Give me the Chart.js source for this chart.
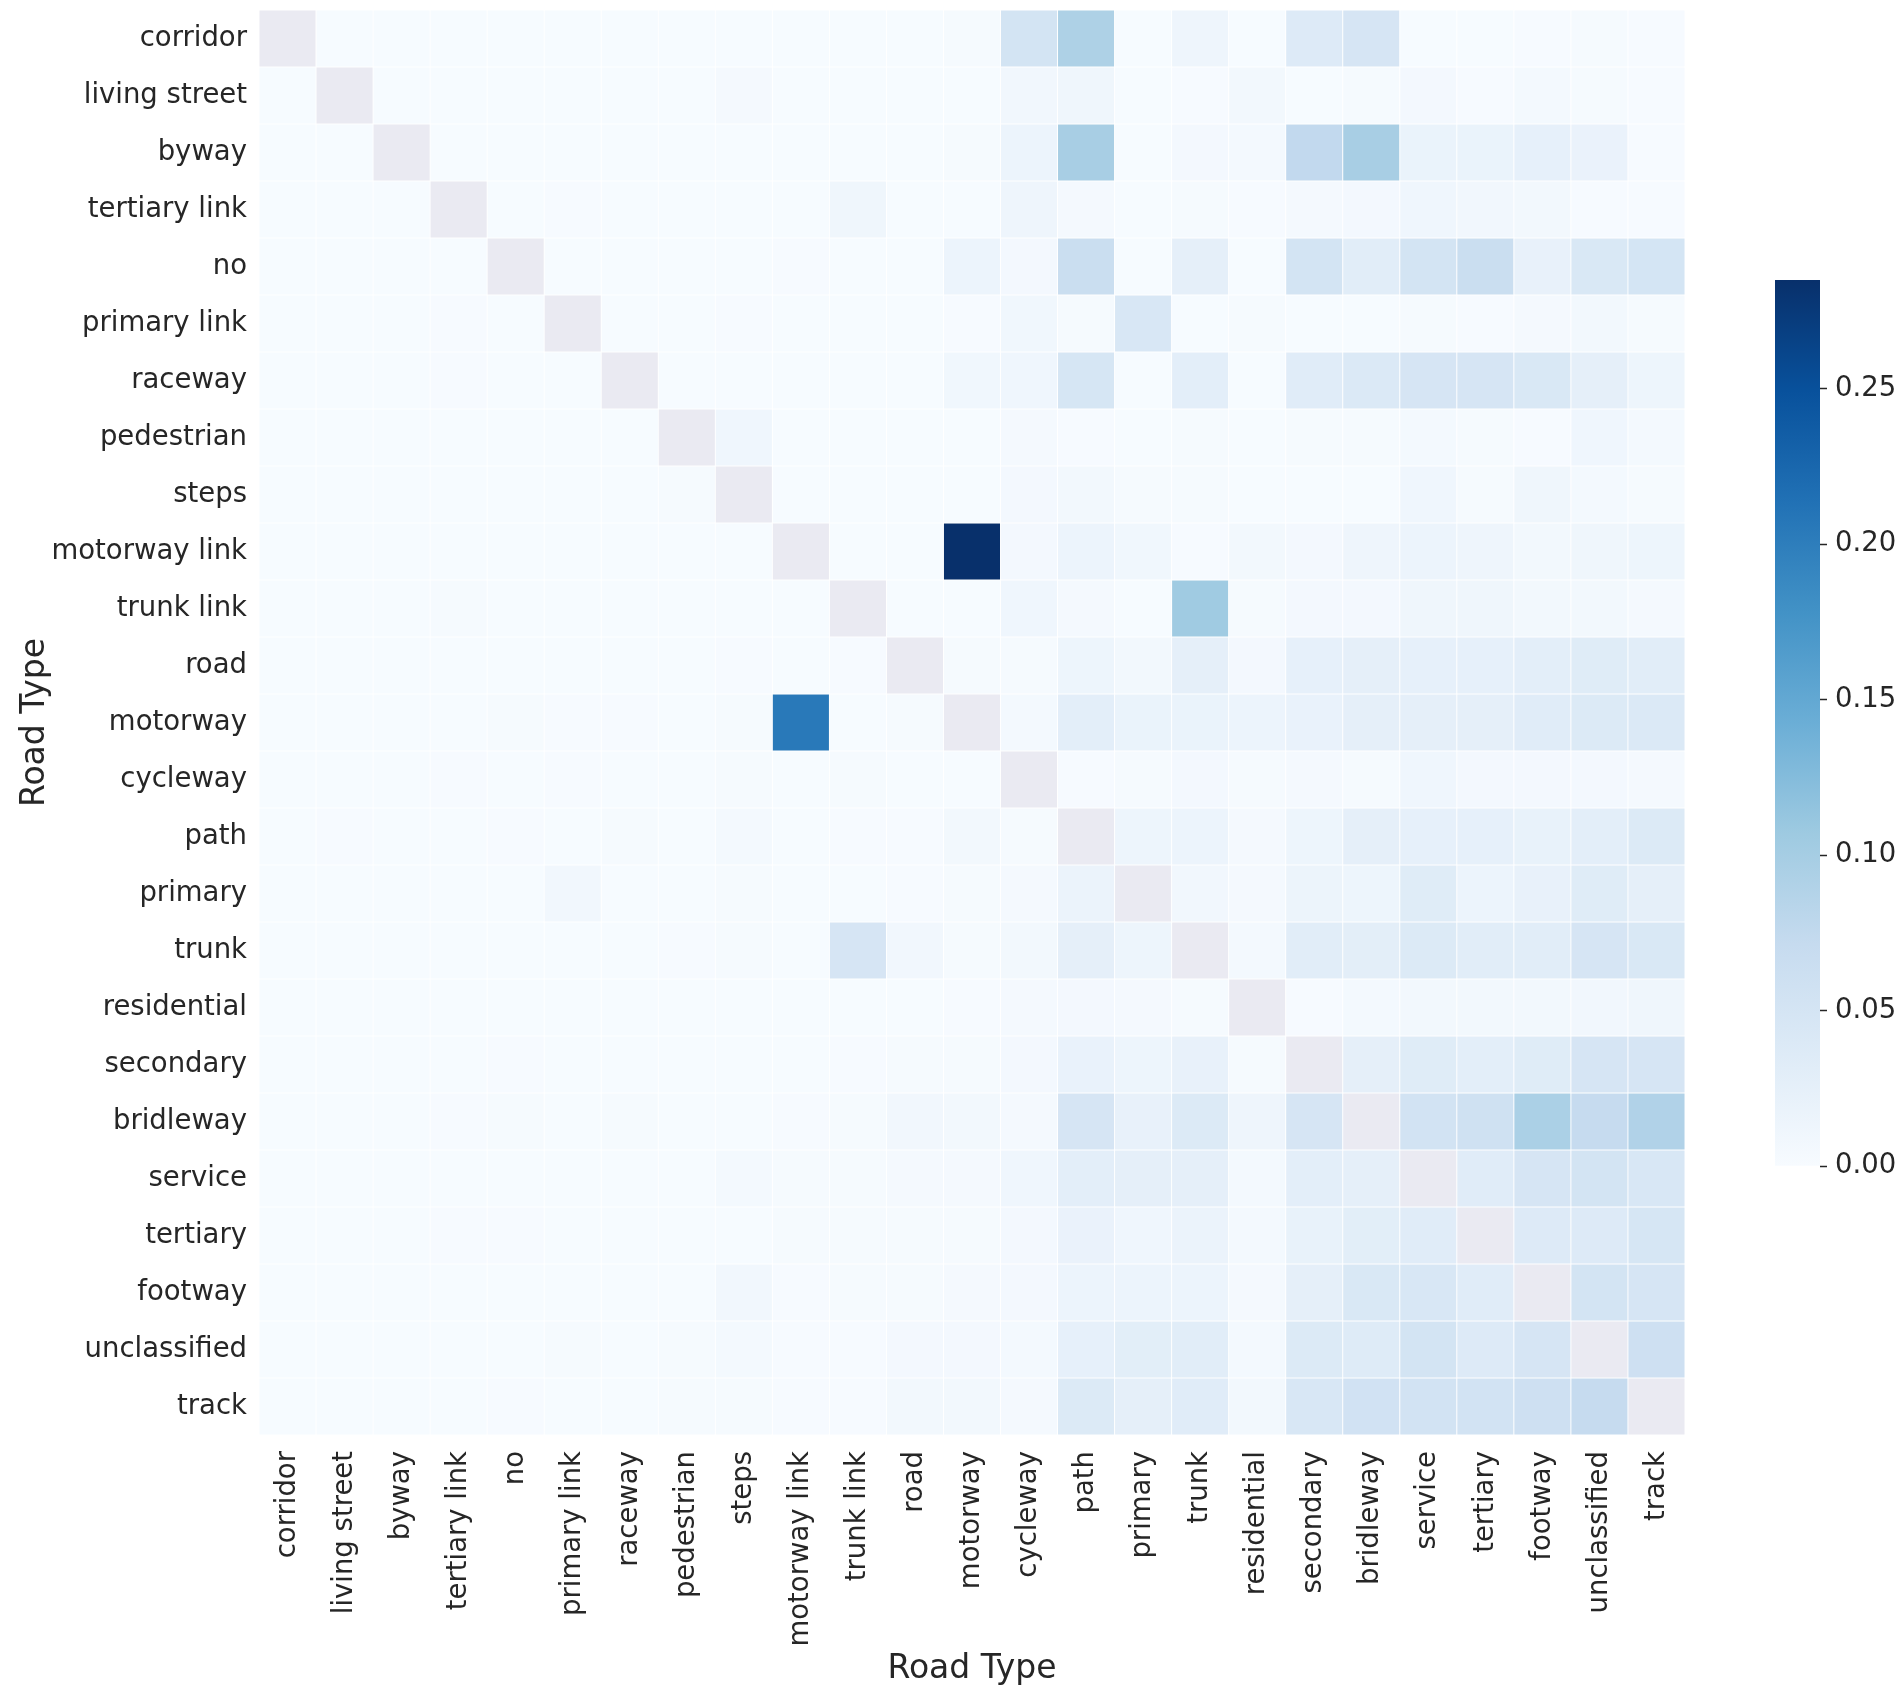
<!DOCTYPE html>
<html>
<head>
<meta charset="utf-8">
<title>Road type heatmap</title>
<script src="https://cdn.jsdelivr.net/npm/chart.js@4.4.1/dist/chart.umd.min.js"></script>
<style>
  html, body { margin: 0; padding: 0; background: #ffffff; }
  #wrap { position: relative; width: 1904px; height: 1696px; }
  #wrap canvas { position: absolute; left: 0; top: 0; }
</style>
</head>
<body>
<div id="wrap">
  <canvas id="heatmap" width="1904" height="1696"></canvas>
  <canvas id="colorbar" width="1904" height="1696"></canvas>
</div>
<script>
// Categories (same order on both axes)
const roadTypes = [
  'corridor', 'living street', 'byway', 'tertiary link', 'no', 'primary link',
  'raceway', 'pedestrian', 'steps', 'motorway link', 'trunk link', 'road',
  'motorway', 'cycleway', 'path', 'primary', 'trunk', 'residential',
  'secondary', 'bridleway', 'service', 'tertiary', 'footway', 'unclassified', 'track'
];

// Cell values, one row per road type (null = masked diagonal)
const values = [
  [null,.001,.001,.001,.001,.001,.001,.001,.001, .001,.001,.001,.003,.052,.093,.001,.013,.001,.037,.048, .001,.001,.002,.003,.002],
  [.001,null,.001,.001,.001,.001,.001,.001,.004, .001,.001,.001,.001,.008,.012,.001,.002,.007,.001,.003, .006,.002,.005,.003,.002],
  [.001,.001,null,.001,.001,.001,.001,.001,.001, .001,.001,.001,.003,.015,.098,.001,.006,.005,.075,.098, .018,.018,.024,.019,.002],
  [.001,.001,.001,null,.001,.002,.001,.001,.001, .001,.012,.001,.001,.013,.004,.001,.003,.002,.004,.006, .011,.008,.007,.002,.002],
  [.001,.001,.001,.001,null,.001,.001,.001,.001, .002,.001,.001,.015,.006,.065,.001,.026,.001,.052,.032, .052,.065,.022,.043,.050],
  [.001,.001,.001,.002,.001,null,.001,.001,.002, .001,.001,.001,.002,.010,.003,.045,.001,.003,.001,.001, .003,.002,.004,.007,.003],
  [.001,.001,.001,.002,.001,.001,null,.001,.001, .001,.001,.001,.010,.011,.047,.001,.028,.001,.033,.040, .048,.048,.043,.026,.014],
  [.001,.001,.001,.001,.001,.001,.001,null,.011, .001,.001,.001,.001,.004,.002,.001,.003,.001,.003,.003, .005,.003,.002,.011,.005],
  [.001,.001,.001,.001,.001,.001,.001,.003,null, .001,.001,.001,.001,.006,.007,.003,.003,.001,.001,.001, .011,.003,.012,.005,.003],
  [.001,.001,.001,.001,.001,.001,.001,.001,.001, null,.001,.001,.285,.006,.015,.010,.002,.007,.006,.013, .015,.013,.007,.012,.014],
  [.001,.001,.001,.003,.001,.001,.001,.001,.001, .001,null,.001,.001,.011,.004,.001,.105,.003,.006,.006, .012,.012,.007,.007,.004],
  [.001,.001,.001,.001,.001,.001,.001,.001,.002, .001,.002,null,.003,.003,.014,.007,.026,.006,.024,.026, .024,.024,.028,.034,.032],
  [.001,.001,.001,.001,.003,.002,.002,.001,.003, .205,.001,.003,null,.005,.028,.018,.018,.015,.020,.026, .026,.026,.033,.038,.040],
  [.001,.001,.001,.002,.001,.002,.001,.001,.003, .001,.003,.001,.001,null,.002,.003,.006,.003,.004,.003, .011,.006,.006,.006,.004],
  [.001,.002,.001,.001,.002,.001,.003,.001,.005, .001,.002,.002,.007,.003,null,.014,.015,.004,.014,.026, .024,.024,.021,.028,.038],
  [.001,.001,.001,.001,.001,.009,.001,.001,.003, .001,.001,.002,.003,.004,.017,null,.008,.004,.016,.014, .034,.015,.022,.034,.026],
  [.001,.001,.001,.001,.001,.001,.001,.002,.003, .001,.048,.008,.003,.007,.026,.014,null,.005,.031,.029, .038,.031,.031,.048,.043],
  [.001,.001,.001,.001,.001,.001,.001,.001,.001, .001,.001,.001,.002,.004,.006,.004,.003,null,.002,.005, .007,.007,.007,.008,.012],
  [.001,.001,.001,.001,.002,.001,.001,.001,.001, .001,.002,.003,.003,.006,.020,.014,.022,.003,null,.026, .034,.028,.034,.048,.048],
  [.001,.001,.001,.002,.003,.001,.003,.001,.001, .002,.003,.008,.007,.004,.048,.022,.038,.013,.048,null, .054,.058,.095,.071,.090],
  [.001,.001,.001,.001,.001,.001,.001,.001,.005, .003,.003,.004,.004,.011,.028,.026,.026,.005,.028,.026, null,.033,.048,.052,.045],
  [.001,.001,.001,.002,.002,.001,.001,.001,.001, .003,.003,.003,.003,.006,.019,.011,.017,.005,.021,.030, .033,null,.037,.037,.047],
  [.001,.001,.001,.001,.001,.001,.001,.001,.009, .002,.003,.003,.004,.006,.015,.015,.015,.004,.026,.043, .045,.033,null,.052,.048],
  [.001,.001,.001,.001,.001,.003,.001,.003,.005, .002,.002,.006,.006,.005,.024,.030,.031,.005,.038,.035, .052,.037,.048,null,.060],
  [.001,.001,.001,.001,.002,.001,.001,.003,.003, .002,.002,.007,.007,.004,.038,.026,.033,.007,.045,.055, .054,.054,.060,.071,null]
];

// Colour bar range and ticks
const colorMax = 0.285;
const colorbarTicks = [0, 0.05, 0.10, 0.15, 0.20, 0.25];

// matplotlib "Blues" colour stops
const bluesStops = [
  [247, 251, 255], [222, 235, 247], [198, 219, 239], [158, 202, 225],
  [107, 174, 214], [66, 146, 198], [33, 113, 181], [8, 81, 156], [8, 48, 107]
];
const maskColor = '#eaeaf2';
const textColor = '#262626';
const tickFont = 27.5;
const titleFont = 33;

function blues(t) {
  t = Math.max(0, Math.min(1, t));
  const pos = t * (bluesStops.length - 1);
  const i = Math.min(Math.floor(pos), bluesStops.length - 2);
  const f = pos - i;
  const a = bluesStops[i], b = bluesStops[i + 1];
  const c = a.map((v, k) => Math.round(v + (b[k] - v) * f));
  return 'rgb(' + c.join(',') + ')';
}

Chart.defaults.font.family = '"DejaVu Sans", sans-serif';
Chart.defaults.color = textColor;

// Heatmap: one dataset per row, floating bars spanning [row, row + 1]
const heatDatasets = values.map((row, r) => ({
  label: roadTypes[r],
  data: row.map(() => [r, r + 1]),
  backgroundColor: row.map(v => v === null ? maskColor : blues(v / colorMax)),
  borderColor: '#ffffff',
  borderWidth: 0.8,
  borderSkipped: false,
  grouped: false,
  barPercentage: 1,
  categoryPercentage: 1
}));

new Chart(document.getElementById('heatmap'), {
  type: 'bar',
  data: { labels: roadTypes, datasets: heatDatasets },
  options: {
    responsive: false,
    animation: false,
    devicePixelRatio: 1,
    layout: { padding: { left: 16, top: 10, right: 219, bottom: 0 } },
    plugins: { legend: { display: false }, tooltip: { enabled: false } },
    scales: {
      x: {
        type: 'category',
        grid: { display: false, drawTicks: false },
        border: { display: false },
        ticks: {
          autoSkip: false,
          maxRotation: 90,
          minRotation: 90,
          padding: 16,
          font: { size: tickFont },
          color: textColor
        },
        title: {
          display: true,
          text: 'Road Type',
          font: { size: titleFont },
          color: textColor,
          padding: { top: 0, bottom: 7 }
        },
        afterFit: function(axis) {
          axis.height = 261;
          axis.paddingLeft = 0;
          axis.paddingRight = 0;
        }
      },
      y: {
        type: 'linear',
        min: 0,
        max: roadTypes.length,
        reverse: true,
        grid: { display: false, drawTicks: false },
        border: { display: false },
        afterBuildTicks: function(axis) {
          axis.ticks = roadTypes.map((_, i) => ({ value: i + 0.5 }));
        },
        ticks: {
          padding: 12,
          font: { size: tickFont },
          color: textColor,
          callback: function(value) {
            return roadTypes[Math.floor(value)];
          }
        },
        title: {
          display: true,
          text: 'Road Type',
          font: { size: titleFont },
          color: textColor,
          padding: { top: 0, bottom: 0 }
        },
        afterFit: function(axis) {
          axis.width = 243;
          axis.paddingTop = 0;
          axis.paddingBottom = 0;
        }
      }
    }
  }
});

// Colour bar: a single floating bar filled with the Blues gradient
new Chart(document.getElementById('colorbar'), {
  type: 'bar',
  data: {
    labels: [''],
    datasets: [{
      data: [[0, colorMax]],
      backgroundColor: function(ctx) {
        const area = ctx.chart.chartArea;
        if (!area) return blues(0.5);
        const g = ctx.chart.ctx.createLinearGradient(0, area.bottom, 0, area.top);
        bluesStops.forEach((_, i) => {
          const t = i / (bluesStops.length - 1);
          g.addColorStop(t, blues(t));
        });
        return g;
      },
      borderWidth: 0,
      barPercentage: 1,
      categoryPercentage: 1
    }]
  },
  options: {
    responsive: false,
    animation: false,
    devicePixelRatio: 1,
    layout: { padding: { left: 1775, top: 280, right: 0, bottom: 530 } },
    plugins: { legend: { display: false }, tooltip: { enabled: false } },
    scales: {
      x: { display: false },
      y: {
        position: 'right',
        min: 0,
        max: colorMax,
        border: { display: false },
        grid: {
          drawOnChartArea: false,
          drawTicks: true,
          tickLength: 7,
          tickWidth: 1.5,
          tickColor: textColor
        },
        afterBuildTicks: function(axis) {
          axis.ticks = colorbarTicks.map(v => ({ value: v }));
        },
        ticks: {
          padding: 8,
          font: { size: tickFont },
          color: textColor,
          callback: function(value) { return value.toFixed(2); }
        },
        afterFit: function(axis) {
          axis.width = 84;
          axis.paddingTop = 0;
          axis.paddingBottom = 0;
        }
      }
    }
  }
});
</script>
</body>
</html>
